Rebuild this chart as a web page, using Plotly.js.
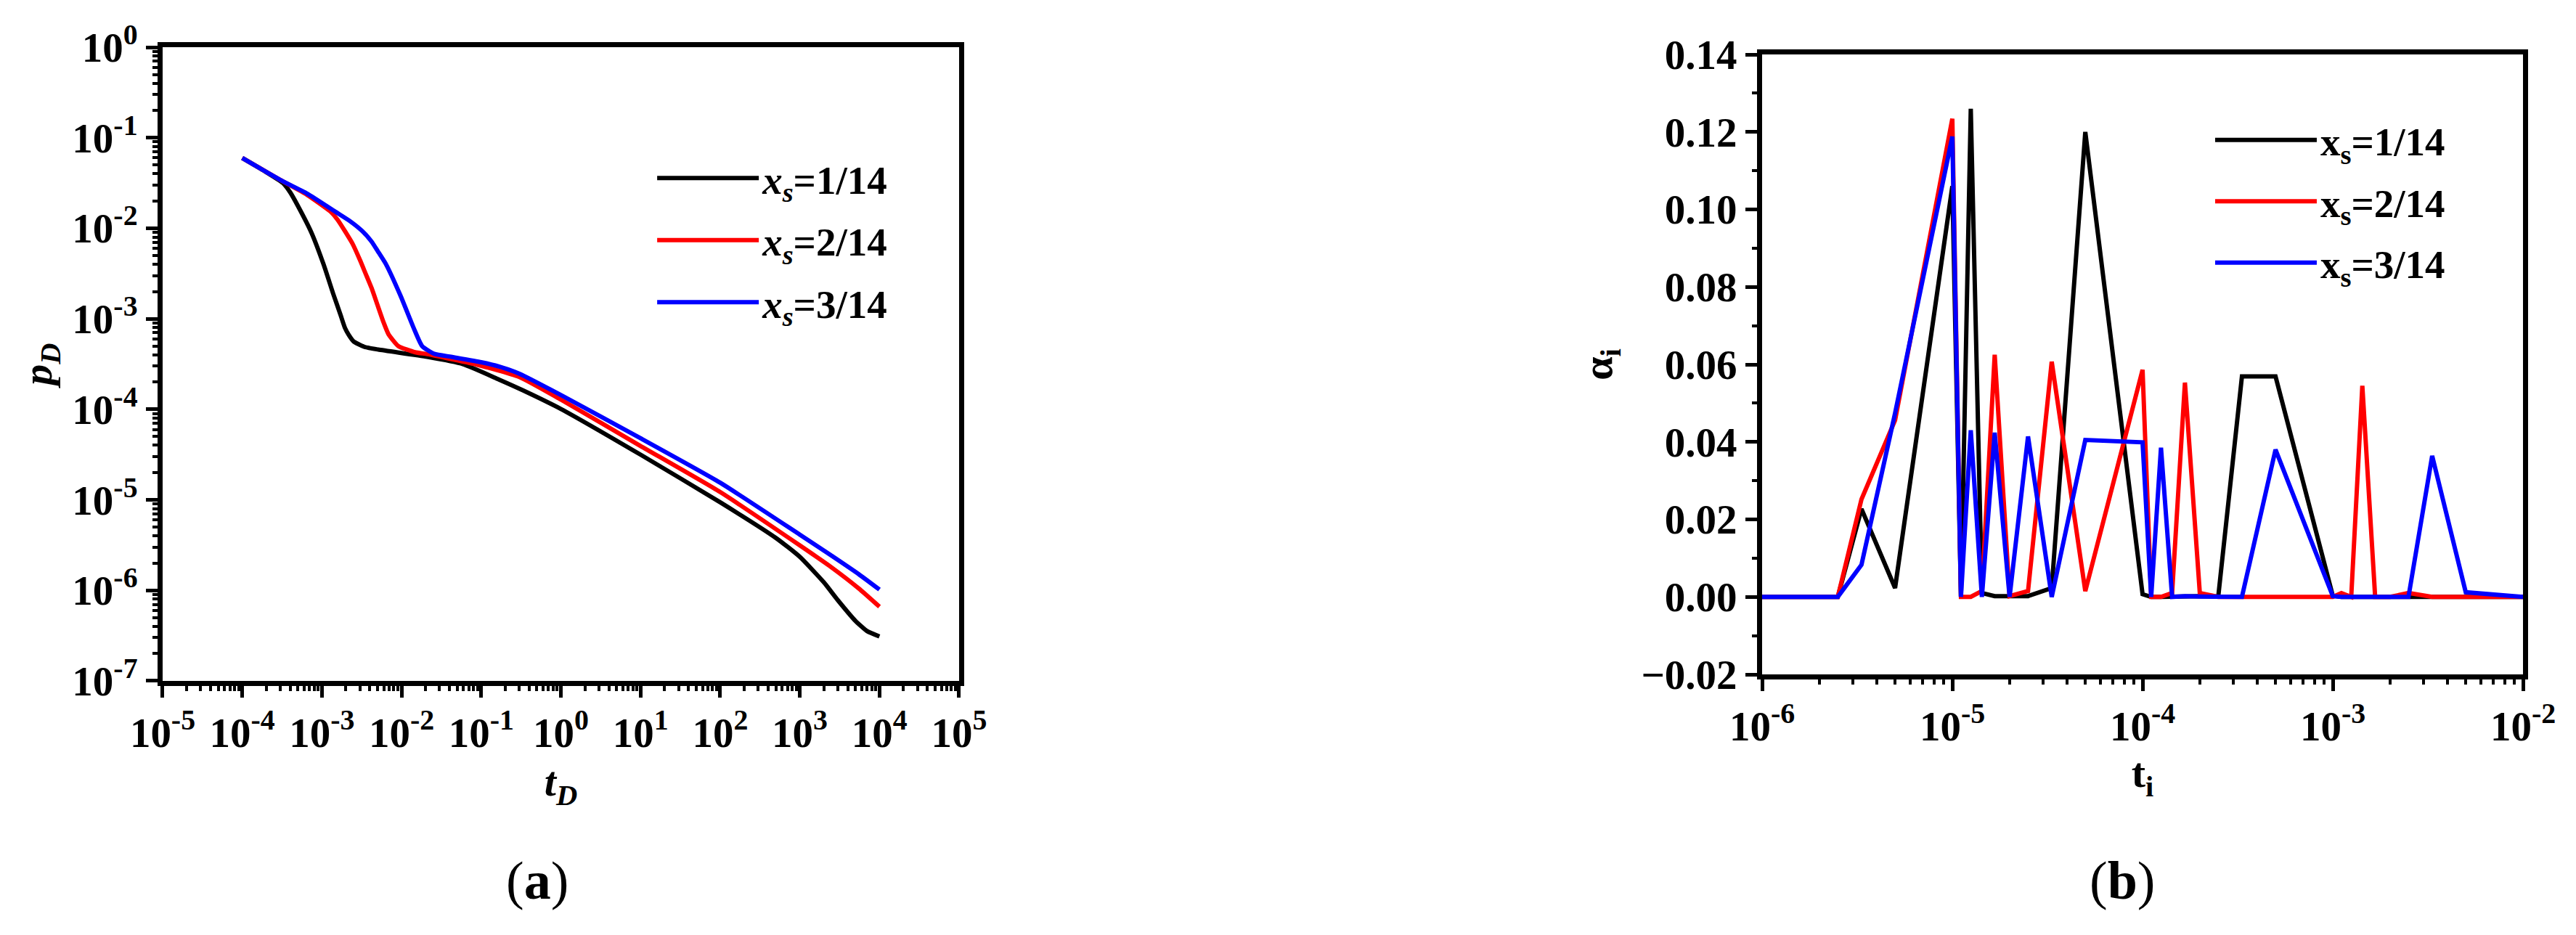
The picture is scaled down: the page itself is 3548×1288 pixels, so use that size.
<!DOCTYPE html>
<html>
<head>
<meta charset="utf-8">
<script src="https://cdn.plot.ly/plotly-3.0.1.min.js"></script>
<style>
  body { margin: 0; background: #fff; }
  #chart { width: 3548px; height: 1288px; }
</style>
</head>
<body>
<div id="chart"></div>
<script>
// (a) dimensionless pressure vs time, one curve per source position
var tD1 = [1e-4, 1.86e-4, 3.24e-4, 4e-4, 4.9e-4, 7.4e-4, 1.05e-3, 1.38e-3, 1.71e-3, 1.95e-3, 2.18e-3, 2.5e-3, 3.4e-3, 5.1e-3,
           2.1e-2, 5.9e-2, 0.166, 0.335, 1, 10, 100, 500, 1000, 2000, 3000, 5000, 7000, 1e4];
var pD1 = [0.0597, 0.0433, 0.0316, 0.0249, 0.0182, 0.00891, 0.00398, 0.00191, 0.00111, 7.9e-4, 6.6e-4, 5.62e-4, 4.9e-4, 4.57e-4,
           3.8e-4, 3.16e-4, 2.14e-4, 1.62e-4, 1.01e-4, 3.16e-5, 9.4e-6, 3.8e-6, 2.35e-6, 1.23e-6, 7.8e-7, 4.6e-7, 3.55e-7, 3.1e-7];

var tD2 = [1e-4, 3e-4, 6.5e-4, 1.28e-3, 1.58e-3, 2.42e-3, 3e-3, 3.55e-3, 4.2e-3, 5e-3, 5.95e-3, 6.85e-3, 9.1e-3,
           1.48e-2, 2.1e-2, 8.3e-2, 0.3, 1, 10, 100, 1000, 2450, 5500, 1e4];
var pD2 = [0.0597, 0.0342, 0.0234, 0.0153, 0.01236, 0.00676, 0.00447, 0.00313, 0.00219, 0.00141, 9.1e-4, 6.76e-4, 5.0e-4,
           4.27e-4, 4.07e-4, 3.16e-4, 2.28e-4, 1.28e-4, 3.94e-5, 1.22e-5, 3.14e-6, 1.82e-6, 1.05e-6, 6.6e-7];

var tD3 = [1e-4, 3e-4, 6.5e-4, 1.5e-3, 2.25e-3, 3.2e-3, 4.2e-3, 5e-3, 6.4e-3, 9.7e-3, 1.42e-2, 1.81e-2, 2.56e-2,
           4.2e-2, 0.1, 0.167, 0.3, 1, 10, 100, 1000, 2450, 5500, 1e4];
var pD3 = [0.0597, 0.0342, 0.0242, 0.0151, 0.0120, 0.00933, 0.00713, 0.00562, 0.00398, 0.00180, 7.9e-4, 5.0e-4, 4.11e-4,
           3.8e-4, 3.31e-4, 2.97e-4, 2.48e-4, 1.44e-4, 4.8e-5, 1.55e-5, 4.13e-6, 2.45e-6, 1.51e-6, 1.02e-6];

// (b) weights alpha_i at the sample times t_i
var ti = [1e-6, 1.11e-6, 1.25e-6, 1.43e-6, 1.67e-6, 2e-6, 2.5e-6, 3.33e-6, 5e-6,
          1e-5, 1.11e-5, 1.25e-5, 1.43e-5, 1.67e-5, 2e-5, 2.5e-5, 3.33e-5, 5e-5,
          1e-4, 1.11e-4, 1.25e-4, 1.43e-4, 1.67e-4, 2e-4, 2.5e-4, 3.33e-4, 5e-4,
          1e-3, 1.11e-3, 1.25e-3, 1.43e-3, 1.67e-3, 2e-3, 2.5e-3, 3.33e-3, 5e-3, 1e-2];
var alpha1 = [0, 0, 0, 0, 0, 0, 0, 0.0227, 0.0023,
              0.1060, 0, 0.1260, 0.0010, 0.0002, 0.0002, 0.0002, 0.0023, 0.1200,
              0.0007, 0, 0, 0.0001, 0.0002, 0.0002, 0.0001, 0.0569, 0.0569,
              0.0003, 0, 0, 0, 0, 0, 0.0002, 0, 0, 0];
var alpha2 = [0, 0, 0, 0, 0, 0, 0, 0.0252, 0.0456,
              0.1234, 0, 0, 0.0015, 0.0625, 0.0002, 0.0015, 0.0607, 0.0015,
              0.0586, 0, 0, 0.0010, 0.0553, 0.0010, 0, 0, 0,
              0, 0.0010, 0, 0.0545, 0, 0, 0.0010, 0, 0, 0];
var alpha3 = [0, 0, 0, 0, 0, 0, 0, 0.0083, 0.0474,
              0.1188, 0, 0.0430, 0, 0.0424, 0, 0.0414, 0, 0.0405,
              0.0399, 0, 0.0385, 0, 0.0002, 0.0001, 0, 0, 0.0380,
              0.0002, 0, 0, 0, 0, 0, 0, 0.0364, 0.0012, 0];

var names = ['1/14', '2/14', '3/14'];
var colors = ['#000000', '#ff0000', '#0000ff'];

var xTicksA = [1e-5, 1e-4, 1e-3, 1e-2, 1e-1, 1, 10, 100, 1e3, 1e4, 1e5];
var xLabelsA = ['10<sup>-5</sup>', '10<sup>-4</sup>', '10<sup>-3</sup>', '10<sup>-2</sup>', '10<sup>-1</sup>', '10<sup>0</sup>',
                '10<sup>1</sup>', '10<sup>2</sup>', '10<sup>3</sup>', '10<sup>4</sup>', '10<sup>5</sup>'];
var yTicksA = [1e-7, 1e-6, 1e-5, 1e-4, 1e-3, 1e-2, 1e-1, 1];
var yLabelsA = ['10<sup>-7</sup>', '10<sup>-6</sup>', '10<sup>-5</sup>', '10<sup>-4</sup>', '10<sup>-3</sup>', '10<sup>-2</sup>', '10<sup>-1</sup>', '10<sup>0</sup>'];
var xTicksB = [1e-6, 1e-5, 1e-4, 1e-3, 1e-2];
var xLabelsB = ['10<sup>-6</sup>', '10<sup>-5</sup>', '10<sup>-4</sup>', '10<sup>-3</sup>', '10<sup>-2</sup>'];

var FONT = 'Liberation Serif, Times New Roman, serif';

var tA = [tD1, tD2, tD3];
var pA = [pD1, pD2, pD3];
var aB = [alpha1, alpha2, alpha3];

var data = [];
for (var i = 0; i < 3; i++) {
  data.push({
    x: tA[i], y: pA[i],
    xaxis: 'x', yaxis: 'y',
    mode: 'lines',
    name: '<i>x<sub>s</sub></i>=' + names[i],
    legendgroup: 'a' + i,
    line: {color: colors[i], width: 6, shape: 'spline', smoothing: 0.5},
    legend: 'legend'
  });
}
for (var j = 0; j < 3; j++) {
  data.push({
    x: ti, y: aB[j],
    xaxis: 'x2', yaxis: 'y2',
    mode: 'lines',
    name: 'x<sub>s</sub>=' + names[j],
    legendgroup: 'b' + j,
    line: {color: colors[j], width: 6},
    legend: 'legend2'
  });
}

function axisBase() {
  return {
    showline: true, linewidth: 7, linecolor: '#000', mirror: true,
    ticks: 'outside', ticklen: 16, tickwidth: 5, tickcolor: '#000',
    showgrid: false, zeroline: false,
    tickfont: {family: FONT, size: 57, color: '#000', weight: 'bold'}
  };
}
var minorLog = {ticks: 'outside', ticklen: 7, tickwidth: 4, tickcolor: '#000', dtick: 'D1', showgrid: false};

var xa = axisBase();
Object.assign(xa, {
  type: 'log', range: [-5, 5], domain: [0.06313, 0.37232], anchor: 'y',
  tickmode: 'array', tickvals: xTicksA, ticktext: xLabelsA, minor: minorLog,
  title: {text: '<i>t<sub>D</sub></i>', standoff: 18, font: {family: FONT, size: 58, color: '#000', weight: 'bold'}}
});
var ya = axisBase();
Object.assign(ya, {
  type: 'log', range: [-7, 0], domain: [0.27174, 0.94953], anchor: 'x',
  tickmode: 'array', tickvals: yTicksA, ticktext: yLabelsA, minor: minorLog,
  title: {text: '<i>p<sub>D</sub></i>', standoff: 12, font: {family: FONT, size: 58, color: '#000', weight: 'bold'}}
});
var xb = axisBase();
Object.assign(xb, {
  type: 'log', range: [-6, -2], domain: [0.68405, 0.97943], anchor: 'y2',
  tickmode: 'array', tickvals: xTicksB, ticktext: xLabelsB, minor: minorLog,
  title: {text: 't<sub>i</sub>', standoff: 0, font: {family: FONT, size: 58, color: '#000', weight: 'bold'}}
});
var yb = axisBase();
Object.assign(yb, {
  range: [-0.02, 0.14], domain: [0.27873, 0.94177], anchor: 'x2',
  tickmode: 'linear', tick0: 0, dtick: 0.02, tickformat: '.2f',
  minor: {ticks: 'outside', ticklen: 7, tickwidth: 4, tickcolor: '#000', dtick: 0.01, showgrid: false},
  title: {text: 'α<sub>i</sub>', standoff: 24, font: {family: FONT, size: 58, color: '#000', weight: 'bold'}}
});

var legendFont = {family: FONT, size: 55, color: '#000', weight: 'bold'};

var layout = {
  width: 3548, height: 1288,
  margin: {l: 0, r: 0, t: 0, b: 0},
  paper_bgcolor: '#fff', plot_bgcolor: '#fff',
  font: {family: FONT, color: '#000', weight: 'bold'},
  xaxis: xa, yaxis: ya, xaxis2: xb, yaxis2: yb,
  legend: {
    x: 0.2537, y: 0.8424, xanchor: 'left', yanchor: 'top',
    bgcolor: 'rgba(0,0,0,0)', borderwidth: 0, itemwidth: 140, tracegroupgap: 11,
    font: legendFont
  },
  legend2: {
    x: 0.8585, y: 0.8832, xanchor: 'left', yanchor: 'top',
    bgcolor: 'rgba(0,0,0,0)', borderwidth: 0, itemwidth: 140, tracegroupgap: 10,
    font: legendFont
  },
  annotations: [
    {text: '(<b>a</b>)', x: 0.2086, y: 0.0582, xref: 'paper', yref: 'paper', xanchor: 'center', yanchor: 'middle',
     showarrow: false, font: {family: FONT, size: 74, color: '#000', weight: 'normal'}},
    {text: '(<b>b</b>)', x: 0.8238, y: 0.0582, xref: 'paper', yref: 'paper', xanchor: 'center', yanchor: 'middle',
     showarrow: false, font: {family: FONT, size: 74, color: '#000', weight: 'normal'}}
  ]
};

Plotly.newPlot('chart', data, layout, {staticPlot: true, displayModeBar: false});
</script>
</body>
</html>
